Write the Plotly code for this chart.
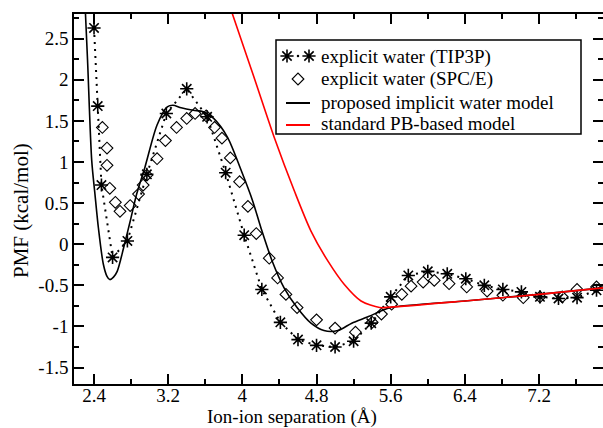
import plotly.graph_objects as go

# TIP3P explicit water (stars)
tip3p_x = [2.40, 2.44, 2.48, 2.60, 2.76, 2.97, 3.18, 3.40, 3.62, 3.82, 4.02, 4.21, 4.41,
           4.60, 4.80, 5.00, 5.20, 5.39, 5.60, 5.79, 6.00, 6.21, 6.41, 6.61, 6.81, 7.01,
           7.21, 7.41, 7.61, 7.82]
tip3p_y = [2.63, 1.68, 0.72, -0.16, 0.04, 0.85, 1.59, 1.89, 1.55, 0.87, 0.11, -0.55, -0.95,
           -1.16, -1.23, -1.25, -1.18, -0.96, -0.64, -0.38, -0.33, -0.36, -0.42, -0.50, -0.55, -0.58,
           -0.64, -0.66, -0.65, -0.56]

# SPC/E explicit water (diamonds)
spce_x = [2.49, 2.54, 2.54, 2.57, 2.63, 2.68, 2.79, 2.88, 2.93, 2.97, 3.08, 3.17, 3.29, 3.40,
          3.49, 3.61, 3.70, 3.78, 3.87, 3.97, 4.06, 4.15, 4.29, 4.38, 4.47, 4.59, 4.80, 5.00,
          5.22, 5.40, 5.50, 5.61, 5.72, 5.82, 5.95, 6.07, 6.23, 6.42, 6.64, 6.81, 7.03, 7.21,
          7.45, 7.61, 7.82]
spce_y = [1.42, 1.17, 0.96, 0.68, 0.51, 0.40, 0.47, 0.61, 0.72, 0.84, 1.04, 1.26, 1.42, 1.53,
          1.59, 1.56, 1.42, 1.29, 1.05, 0.76, 0.46, 0.13, -0.17, -0.41, -0.61, -0.77, -0.92, -1.02,
          -1.07, -0.95, -0.85, -0.73, -0.61, -0.51, -0.46, -0.44, -0.48, -0.52, -0.57, -0.62, -0.65, -0.64,
          -0.64, -0.55, -0.52]

# Proposed implicit water model (black line)
impl_x = [2.30, 2.33, 2.375, 2.41, 2.447, 2.50, 2.54, 2.57, 2.61, 2.65, 2.72, 2.79, 2.86, 2.95,
          3.08, 3.19, 3.25, 3.34, 3.47, 3.58, 3.69, 3.84, 3.99, 4.11, 4.20, 4.32, 4.45, 4.59,
          4.74, 4.88, 5.03, 5.18, 5.36, 5.50, 5.60, 6.40, 7.20, 7.90]
impl_y = [3.00, 2.24, 1.02, 0.61, 0.20, -0.24, -0.39, -0.43, -0.40, -0.33, -0.04, 0.28, 0.61, 0.94,
          1.45, 1.67, 1.69, 1.66, 1.63, 1.61, 1.53, 1.30, 0.89, 0.53, 0.20, -0.20, -0.53, -0.77,
          -0.96, -1.05, -1.05, -0.96, -0.88, -0.81, -0.77, -0.69, -0.61, -0.53]

# Standard PB-based model (red line)
pb_x = [3.85, 3.89, 4.12, 4.35, 4.56, 4.74, 4.92, 5.10, 5.28, 5.48, 5.60, 6.40, 7.20, 7.90]
pb_y = [2.95, 2.81, 2.05, 1.28, 0.65, 0.16, -0.20, -0.49, -0.69, -0.77, -0.765, -0.69, -0.61, -0.53]

series_names = ["explicit water (TIP3P)", "explicit water (SPC/E)",
                "proposed implicit water model", "standard PB-based model"]

x_ticks = [2.4, 3.2, 4.0, 4.8, 5.6, 6.4, 7.2]
x_labels = ["2.4", "3.2", "4", "4.8", "5.6", "6.4", "7.2"]
y_ticks = [-1.5, -1.0, -0.5, 0.0, 0.5, 1.0, 1.5, 2.0, 2.5]
y_labels = ["-1.5", "-1", "-0.5", "0", "0.5", "1", "1.5", "2", "2.5"]

FONT = "Liberation Serif"

# plot-area geometry in pixels (figure 603x428)
PL, PR, PT, PB = 74, 603, 14, 384


def px(x):
    return (x - PL) / (PR - PL)


def py(y):
    return (PB - y) / (PB - PT)


STAR = dict(symbol="asterisk-open", size=11, color="black", line=dict(color="black", width=1.6))
DIAM = dict(symbol="diamond-open", size=9, color="black", line=dict(color="black", width=1.1))

fig = go.Figure()
fig.add_trace(go.Scatter(
    x=tip3p_x, y=tip3p_y, mode="lines+markers", name=series_names[0],
    line=dict(color="black", width=2, dash="2px,5px"), marker=STAR,
))
fig.add_trace(go.Scatter(
    x=spce_x, y=spce_y, mode="markers", name=series_names[1], marker=DIAM,
))
fig.add_trace(go.Scatter(
    x=impl_x, y=impl_y, mode="lines", name=series_names[2],
    line=dict(color="black", width=1.6, shape="spline", smoothing=0.8),
))
fig.add_trace(go.Scatter(
    x=pb_x, y=pb_y, mode="lines", name=series_names[3],
    line=dict(color="red", width=1.6, shape="spline", smoothing=0.8),
))

# ---- hand-built legend (box, keys, labels) in pixel space of an overlay axis ----
LEG_BOX = (276, 40, 581, 134)
LEG_ROWS = [57, 79, 102, 124]
KEY_L, KEY_C, KEY_R, TEXT_X = 287, 298, 309, 319

fig.add_trace(go.Scatter(
    x=[KEY_L, KEY_R], y=[LEG_ROWS[0] - 1, LEG_ROWS[0] - 1], mode="markers", marker=STAR,
    xaxis="x2", yaxis="y2", showlegend=False, hoverinfo="skip"))
fig.add_trace(go.Scatter(
    x=[KEY_C], y=[LEG_ROWS[0] - 1], mode="markers",
    marker=dict(symbol="circle", size=2.5, color="black"),
    xaxis="x2", yaxis="y2", showlegend=False, hoverinfo="skip"))
fig.add_trace(go.Scatter(
    x=[KEY_C], y=[LEG_ROWS[1]], mode="markers", marker=DIAM,
    xaxis="x2", yaxis="y2", showlegend=False, hoverinfo="skip"))

shapes = [
    dict(type="rect", xref="paper", yref="paper",
         x0=px(LEG_BOX[0]), x1=px(LEG_BOX[2]), y0=py(LEG_BOX[3]), y1=py(LEG_BOX[1]),
         line=dict(color="black", width=1.5), fillcolor="white", layer="below"),
    dict(type="line", xref="paper", yref="paper",
         x0=px(KEY_L - 1), x1=px(KEY_R + 1), y0=py(LEG_ROWS[2] + 1), y1=py(LEG_ROWS[2] + 1),
         line=dict(color="black", width=2), layer="above"),
    dict(type="line", xref="paper", yref="paper",
         x0=px(KEY_L - 1), x1=px(KEY_R + 1), y0=py(LEG_ROWS[3] + 1), y1=py(LEG_ROWS[3] + 1),
         line=dict(color="red", width=2), layer="above"),
]

annotations = [
    dict(text=name, xref="paper", yref="paper", x=px(TEXT_X), y=py(row),
         xanchor="left", yanchor="middle", showarrow=False,
         font=dict(family=FONT, size=19, color="black"))
    for name, row in zip(series_names, LEG_ROWS)
]
annotations += [
    dict(text="Ion-ion separation (Å)", xref="paper", yref="paper", x=px(292), y=py(417),
         xanchor="center", yanchor="middle", showarrow=False,
         font=dict(family=FONT, size=19, color="black")),
    dict(text="PMF (kcal/mol)", xref="paper", yref="paper", x=px(21), y=py(211),
         xanchor="center", yanchor="middle", showarrow=False, textangle=-90,
         font=dict(family=FONT, size=21, color="black")),
]

axis_common = dict(
    showline=True, linecolor="black", linewidth=1.5, mirror="allticks",
    ticks="inside", ticklen=10, tickwidth=1.5, tickcolor="black",
    showgrid=False, zeroline=False, automargin=False,
    tickfont=dict(family=FONT, size=19, color="black"),
)

fig.update_layout(
    width=603, height=428,
    margin=dict(l=PL, r=603 - PR, t=PT, b=428 - PB),
    paper_bgcolor="white", plot_bgcolor="white",
    font=dict(family=FONT, size=19, color="black"),
    showlegend=False,
    shapes=shapes,
    annotations=annotations,
    xaxis=dict(
        axis_common, range=[2.184, 7.89],
        tickvals=x_ticks, ticktext=x_labels, ticklabelstandoff=-7,
        minor=dict(dtick=0.4, tick0=2.4, ticks="inside", ticklen=5, tickwidth=1.5, tickcolor="black"),
    ),
    yaxis=dict(
        axis_common, range=[-1.7, 2.8],
        tickvals=y_ticks, ticktext=y_labels,
        minor=dict(dtick=0.25, tick0=0, ticks="inside", ticklen=5, tickwidth=1.5, tickcolor="black"),
    ),
    xaxis2=dict(overlaying="x", range=[PL, PR], visible=False, fixedrange=True),
    yaxis2=dict(overlaying="y", range=[PB, PT], visible=False, fixedrange=True),
)

fig.write_html("out.html", config={"displayModeBar": False},
               post_script="document.body.style.margin='0';")
